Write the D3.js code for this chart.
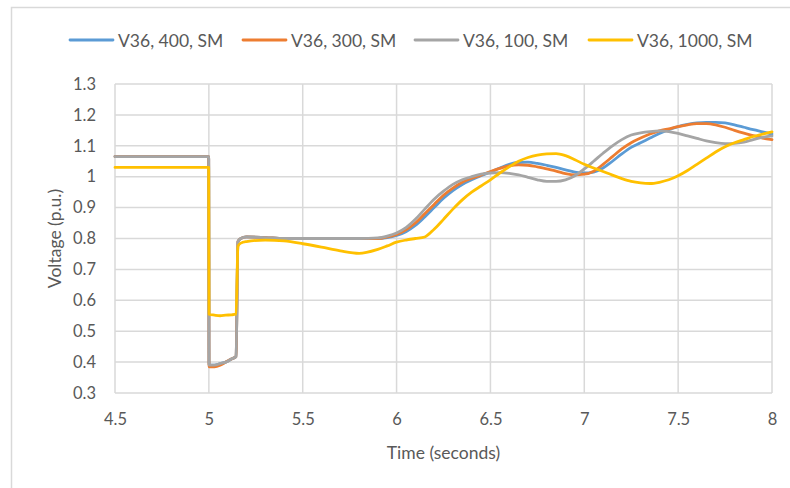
<!DOCTYPE html>
<html>
<head>
<meta charset="utf-8">
<script src="https://cdn.jsdelivr.net/npm/d3@7"></script>
<style>
  html, body { margin: 0; padding: 0; background: #fff; }
  svg { display: block; }
  text { font-family: Lato, "Liberation Sans", sans-serif; fill: #595959; }
</style>
</head>
<body>
<svg id="chart" width="790" height="488"></svg>
<script>
// Time samples (seconds) shared by all series
const times = [4.5, 4.999, 5.001, 5.03, 5.06, 5.09, 5.12, 5.145, 5.155, 5.17, 5.2, 5.3, 5.4, 5.5, 5.6, 5.7, 5.8, 5.9, 5.95,
  6.0, 6.05, 6.1, 6.15, 6.2, 6.25, 6.3, 6.35, 6.4, 6.45, 6.5, 6.55, 6.6, 6.65, 6.7, 6.75, 6.8, 6.85, 6.9, 6.95,
  7.0, 7.05, 7.1, 7.15, 7.2, 7.25, 7.3, 7.35, 7.4, 7.45, 7.5, 7.55, 7.6, 7.65, 7.7, 7.75, 7.8, 7.85, 7.9, 7.95, 8.0];

// Bus voltage (p.u.) for each case
const v400 = [1.065, 1.065, 0.39, 0.39, 0.395, 0.40, 0.41, 0.418, 0.79, 0.80, 0.805, 0.803, 0.80, 0.80, 0.80, 0.80, 0.80, 0.80, 0.803,
  0.81, 0.822, 0.842, 0.87, 0.90, 0.93, 0.955, 0.975, 0.99, 1.003, 1.015, 1.028, 1.04, 1.046, 1.047, 1.043, 1.037, 1.03, 1.022, 1.015,
  1.012, 1.015, 1.028, 1.05, 1.074, 1.095, 1.11, 1.125, 1.14, 1.152, 1.162, 1.169, 1.174, 1.176, 1.176, 1.174, 1.168, 1.16, 1.152, 1.145, 1.138];

const v300 = [1.065, 1.065, 0.385, 0.385, 0.39, 0.40, 0.41, 0.418, 0.79, 0.80, 0.805, 0.803, 0.80, 0.80, 0.80, 0.80, 0.80, 0.80, 0.805,
  0.813, 0.828, 0.85, 0.88, 0.91, 0.94, 0.963, 0.982, 0.995, 1.005, 1.017, 1.027, 1.035, 1.038, 1.037, 1.032, 1.025, 1.018, 1.01, 1.006,
  1.008, 1.018, 1.04, 1.065, 1.09, 1.11, 1.125, 1.138, 1.148, 1.155, 1.162, 1.168, 1.172, 1.172, 1.168, 1.16, 1.15, 1.141, 1.133, 1.125, 1.12];

const v100 = [1.065, 1.065, 0.39, 0.39, 0.395, 0.40, 0.41, 0.418, 0.79, 0.80, 0.805, 0.803, 0.80, 0.80, 0.80, 0.80, 0.80, 0.802, 0.808,
  0.818, 0.835, 0.862, 0.895, 0.927, 0.953, 0.975, 0.99, 1.0, 1.008, 1.012, 1.013, 1.011, 1.006, 0.998, 0.99, 0.985, 0.985, 0.99, 1.003,
  1.025, 1.05, 1.076, 1.10, 1.12, 1.135, 1.142, 1.146, 1.148, 1.146, 1.14, 1.132, 1.124, 1.116, 1.11, 1.107, 1.108, 1.112, 1.12, 1.127, 1.132];

const v1000 = [1.03, 1.03, 0.555, 0.552, 0.55, 0.552, 0.553, 0.555, 0.775, 0.785, 0.79, 0.795, 0.792, 0.783, 0.772, 0.76, 0.752, 0.765, 0.776,
  0.788, 0.795, 0.80, 0.805, 0.83, 0.862, 0.895, 0.925, 0.95, 0.97, 0.99, 1.012, 1.032, 1.05, 1.062, 1.07, 1.074, 1.075, 1.068, 1.055,
  1.04, 1.028, 1.017, 1.005, 0.994, 0.985, 0.98, 0.978, 0.982, 0.99, 1.003, 1.02, 1.04, 1.06, 1.08, 1.097, 1.11, 1.12, 1.13, 1.138, 1.145];

const seriesNames = ["V36, 400, SM", "V36, 300, SM", "V36, 100, SM", "V36, 1000, SM"];
const seriesValues = [v400, v300, v100, v1000];
const seriesColors = ["#5B9BD5", "#ED7D31", "#A5A5A5", "#FFC000"];

const xTicks = [4.5, 5, 5.5, 6, 6.5, 7, 7.5, 8];
const yTicks = [0.3, 0.4, 0.5, 0.6, 0.7, 0.8, 0.9, 1.0, 1.1, 1.2, 1.3];

const svg = d3.select("#chart");
const plot = { left: 115, right: 772, top: 84, bottom: 393 };

// Chart frame
svg.append("rect")
  .attr("x", 11.5).attr("y", 7.5).attr("width", 800).attr("height", 500)
  .attr("fill", "#fff").attr("stroke", "#D9D9D9").attr("stroke-width", 1.5);

const x = d3.scaleLinear().domain([4.5, 8]).range([plot.left, plot.right]);
const y = d3.scaleLinear().domain([0.3, 1.3]).range([plot.bottom, plot.top]);

// Gridlines
const grid = svg.append("g");
grid.selectAll("line.v").data(xTicks).join("line")
  .attr("x1", d => x(d)).attr("x2", d => x(d))
  .attr("y1", plot.top).attr("y2", plot.bottom)
  .attr("stroke", "#D9D9D9").attr("stroke-width", 1.5);
grid.selectAll("line.h").data(yTicks).join("line")
  .attr("x1", plot.left).attr("x2", plot.right)
  .attr("y1", d => y(d)).attr("y2", d => y(d))
  .attr("stroke", "#D9D9D9").attr("stroke-width", 1.5);

// Axes (labels only)
const xAxis = svg.append("g")
  .attr("transform", `translate(0,${plot.bottom + 27})`)
  .call(d3.axisBottom(x).tickValues(xTicks).tickSize(0).tickFormat(d3.format("~g")));
xAxis.select(".domain").remove();
xAxis.selectAll("text").attr("font-size", 16.5).attr("dy", "0.32em").attr("y", 0)
  .style("font-family", "Lato, 'Liberation Sans', sans-serif").attr("fill", "#595959");

const yAxis = svg.append("g")
  .attr("transform", `translate(${plot.left - 19},0)`)
  .call(d3.axisLeft(y).tickValues(yTicks).tickSize(0).tickFormat(d3.format("~g")));
yAxis.select(".domain").remove();
yAxis.selectAll("text").attr("font-size", 16.5).attr("x", 0)
  .style("font-family", "Lato, 'Liberation Sans', sans-serif").attr("fill", "#595959");

// Axis titles
svg.append("text")
  .attr("x", (plot.left + plot.right) / 2).attr("y", 452)
  .attr("text-anchor", "middle").attr("dominant-baseline", "central")
  .attr("font-size", 17.5).text("Time (seconds)");
svg.append("text")
  .attr("transform", `translate(54,${(plot.top + plot.bottom) / 2}) rotate(-90)`)
  .attr("text-anchor", "middle").attr("dominant-baseline", "central")
  .attr("font-size", 17.5).text("Voltage (p.u.)");

// Series lines
const line = d3.line()
  .x((d, i) => x(times[i]))
  .y(d => y(d))
  .curve(d3.curveMonotoneX);

svg.append("g").selectAll("path").data(seriesValues).join("path")
  .attr("d", d => line(d))
  .attr("fill", "none")
  .attr("stroke", (d, i) => seriesColors[i])
  .attr("stroke-width", 2.8)
  .attr("stroke-linejoin", "round")
  .attr("stroke-linecap", "round");

// Legend
const legendX = [70, 243, 415, 589];
const legend = svg.append("g");
seriesNames.forEach((name, i) => {
  const g = legend.append("g").attr("transform", `translate(${legendX[i]},40)`);
  g.append("line").attr("x1", 0).attr("x2", 43).attr("y1", 0).attr("y2", 0)
    .attr("stroke", seriesColors[i]).attr("stroke-width", 2.8).attr("stroke-linecap", "round");
  g.append("text").attr("x", 48).attr("y", 0).attr("dominant-baseline", "central")
    .attr("font-size", 17.5).text(name);
});
</script>
</body>
</html>
